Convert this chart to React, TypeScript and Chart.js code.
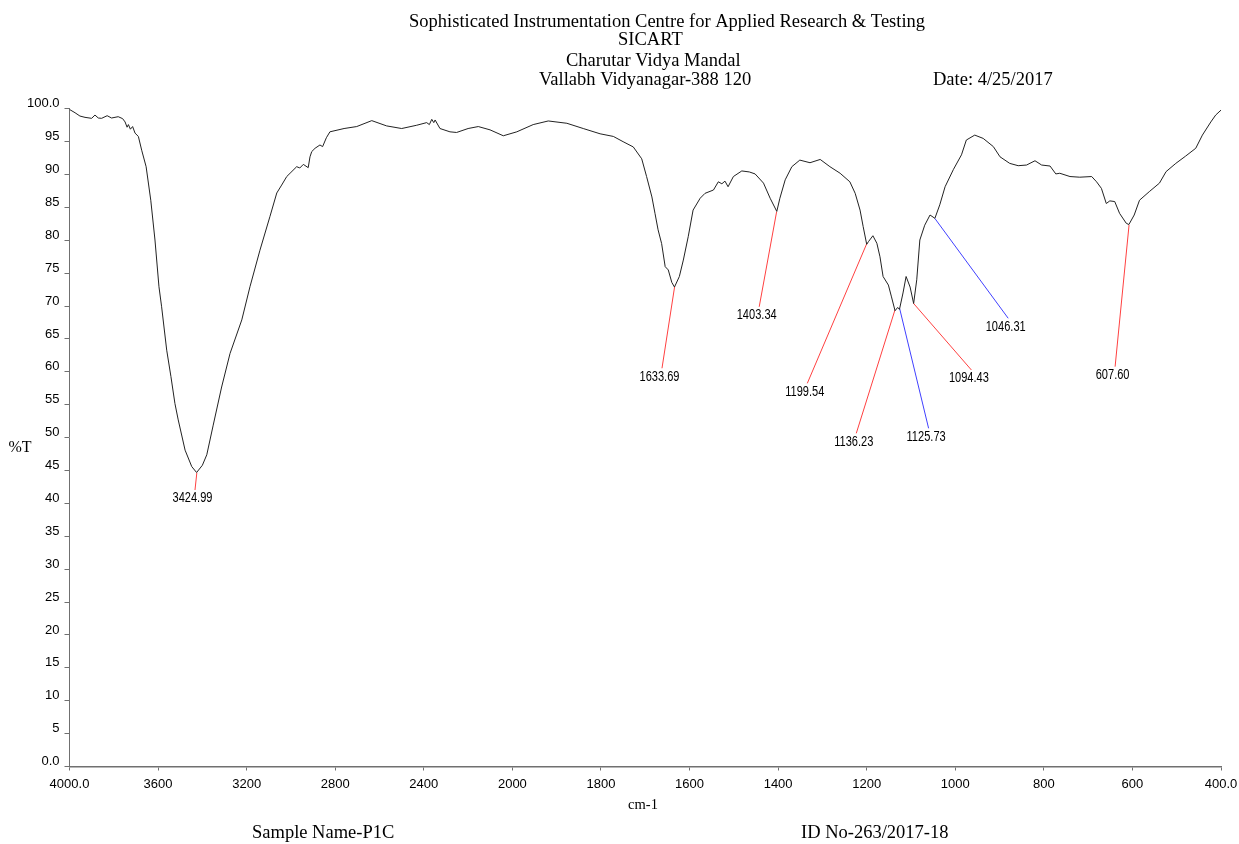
import React, { useEffect, useRef } from 'react';
import { Chart, LinearScale, registerables } from 'chart.js';

// ---------------- DATA ----------------
const HEADER_LINES = [
  'Sophisticated Instrumentation Centre for Applied Research & Testing',
  'SICART',
  'Charutar Vidya Mandal',
  'Vallabh Vidyanagar-388 120',
];
const DATE_TEXT = 'Date: 4/25/2017';
const SAMPLE_TEXT = 'Sample Name-P1C';
const ID_TEXT = 'ID No-263/2017-18';
const X_TITLE = 'cm-1';
const Y_TITLE = '%T';

const X_MIN = 400;
const X_MAX = 4000;
const X_BREAK = 2000;
const X_TICKS = [4000, 3600, 3200, 2800, 2400, 2000, 1800, 1600, 1400, 1200, 1000, 800, 600, 400];
const X_TICK_LABELS = ['4000.0', '3600', '3200', '2800', '2400', '2000', '1800', '1600', '1400', '1200', '1000', '800', '600', '400.0'];
const Y_TICK_LABELS = ['0.0', '5', '10', '15', '20', '25', '30', '35', '40', '45', '50', '55', '60', '65', '70', '75', '80', '85', '90', '95', '100.0'];

// [wavenumber cm-1, %T]
const SPECTRUM: [number, number][] = [
  [4000, 99.9], [3975, 99.4], [3953, 98.9], [3930, 98.7], [3900, 98.55], [3885, 99.05],
  [3870, 98.6], [3855, 98.55], [3830, 98.95], [3810, 98.6], [3780, 98.8], [3760, 98.5],
  [3749, 98.0], [3740, 97.2], [3734, 97.6], [3725, 96.9], [3715, 97.3], [3704, 96.3],
  [3689, 95.8], [3674, 93.7], [3654, 91.2], [3633, 86.1], [3614, 80.05], [3596, 72.95],
  [3584, 69.9], [3561, 63.3], [3542, 59.3], [3524, 55.2], [3509, 52.7], [3478, 48.1],
  [3448, 45.6], [3426, 44.7], [3400, 45.8], [3380, 47.4], [3351, 51.9], [3313, 57.7],
  [3275, 62.8], [3222, 67.9], [3185, 72.95], [3140, 78.5], [3095, 83.6], [3064, 87.2],
  [3042, 88.4], [3019, 89.7], [3004, 90.2], [2974, 91.2], [2960, 91.0], [2944, 91.55],
  [2922, 91.05], [2914, 92.7], [2906, 93.5], [2891, 94.0], [2869, 94.5], [2857, 94.25],
  [2840, 95.6], [2824, 96.5], [2760, 97.0], [2703, 97.3], [2635, 98.2], [2568, 97.4],
  [2500, 97.0], [2432, 97.5], [2387, 97.9], [2375, 97.6], [2364, 98.4], [2355, 97.9],
  [2349, 98.3], [2327, 97.0], [2282, 96.5], [2252, 96.4], [2200, 97.0], [2154, 97.3],
  [2101, 96.8], [2041, 95.9], [1990, 96.5], [1953, 97.6], [1919, 98.15], [1877, 97.8],
  [1840, 97.0], [1802, 96.2], [1772, 95.8], [1750, 95.0], [1727, 94.2], [1708, 92.4],
  [1697, 89.7], [1685, 86.6], [1678, 84.1], [1671, 81.6], [1663, 79.5], [1655, 76.0],
  [1648, 75.5], [1640, 73.6], [1634, 72.9], [1623, 74.5], [1614, 77.0], [1603, 80.55],
  [1592, 84.6], [1576, 86.4], [1565, 87.15], [1546, 87.65], [1535, 88.9], [1527, 88.6],
  [1520, 89.0], [1513, 88.15], [1501, 89.7], [1482, 90.55], [1465, 90.4], [1452, 90.1],
  [1433, 88.7], [1418, 86.4], [1403, 84.4], [1396, 86.4], [1384, 89.2], [1369, 91.2],
  [1351, 92.2], [1328, 91.8], [1305, 92.3], [1283, 91.2], [1260, 90.2], [1238, 88.9],
  [1226, 87.15], [1215, 84.6], [1208, 82.1], [1200, 79.4], [1196, 79.8], [1186, 80.7],
  [1177, 79.55], [1170, 77.5], [1163, 74.5], [1151, 73.2], [1144, 71.4], [1136, 69.3],
  [1130, 69.8], [1126, 69.5], [1118, 72.0], [1111, 74.5], [1102, 72.9], [1094, 70.4],
  [1087, 74.0], [1080, 80.05], [1069, 82.3], [1057, 83.85], [1046, 83.35], [1035, 85.4],
  [1023, 88.15], [1004, 90.8], [986, 93.0], [975, 95.25], [956, 96.0], [937, 95.5],
  [914, 94.25], [899, 92.7], [877, 91.7], [858, 91.35], [839, 91.45], [820, 92.1],
  [805, 91.45], [786, 91.3], [773, 90.1], [764, 90.2], [741, 89.7], [719, 89.6],
  [692, 89.7], [681, 88.9], [670, 87.9], [659, 85.6], [651, 86.0], [640, 85.9],
  [629, 84.1], [614, 82.6], [608, 82.4], [596, 83.85], [584, 86.1], [562, 87.4],
  [539, 88.7], [524, 90.45], [502, 91.7], [480, 92.8], [457, 94.0], [442, 96.0],
  [423, 98.0], [412, 99.05], [400, 99.8],
];

const PEAK_LABELS = ['3424.99', '1633.69', '1403.34', '1199.54', '1136.23', '1125.73', '1094.43', '1046.31', '607.60'];
const PEAK_WAVENUMBERS = [3424.99, 1633.69, 1403.34, 1199.54, 1136.23, 1125.73, 1094.43, 1046.31, 607.6];
const PEAK_TRANSMITTANCE = [44.66, 72.95, 84.36, 79.55, 69.4, 69.67, 70.43, 83.35, 82.33];

// ---------------- LAYOUT / STYLE ----------------
// end points of the peak leader lines (in axis units: cm-1, %T)
const LEADER_END_WN = [3433.3, 1662.2, 1442.7, 1334.1, 1223.5, 1060.2, 963.6, 880.5, 639.1];
const LEADER_END_T = [42.04, 60.55, 69.9, 58.26, 50.66, 51.42, 60.29, 68.15, 60.79];
const LEADER_COLORS = ['#ff4040', '#ff4040', '#ff4040', '#ff4040', '#ff4040', '#4040ff', '#ff4040', '#4040ff', '#ff4040'];

const SERIF = '"Liberation Serif", "Times New Roman", serif';
const SANS = '"Liberation Sans", Arial, sans-serif';

// Piecewise wavenumber axis: 4000-2000 compressed 2:1 relative to 2000-400
class BrokenWavenumberScale extends LinearScale {
  static id = 'brokenWavenumber';
  static defaults = {};
  toUnit(v: number) {
    return v >= X_BREAK ? (X_MAX - v) / 2 : (X_MAX - X_BREAK) / 2 + (X_BREAK - v);
  }
  getPixelForValue(value: number) {
    return this.getPixelForDecimal(this.toUnit(value) / this.toUnit(X_MIN));
  }
  getValueForPixel(pixel: number) {
    const u = this.getDecimalForPixel(pixel) * this.toUnit(X_MIN);
    const half = (X_MAX - X_BREAK) / 2;
    return u <= half ? X_MAX - u * 2 : X_BREAK - (u - half);
  }
}

Chart.register(...registerables, BrokenWavenumberScale);

const textPlugin = {
  id: 'ftirText',
  afterDraw(chart: any) {
    const ctx = chart.ctx as CanvasRenderingContext2D;
    const xs = chart.scales.x;
    const ys = chart.scales.y;
    ctx.save();
    ctx.fillStyle = '#000';
    ctx.textBaseline = 'alphabetic';
    ctx.textAlign = 'left';
    ctx.font = `18.5px ${SERIF}`;
    const headerX = [409, 618, 566, 539];
    const headerY = [26.5, 45, 66, 85];
    HEADER_LINES.forEach((t, i) => ctx.fillText(t, headerX[i], headerY[i]));
    ctx.fillText(DATE_TEXT, 933, 85);
    ctx.fillText(SAMPLE_TEXT, 252, 838);
    ctx.fillText(ID_TEXT, 801, 838);
    ctx.font = `14.5px ${SERIF}`;
    ctx.textAlign = 'center';
    ctx.fillText(X_TITLE, 643, 809);
    ctx.textAlign = 'left';
    ctx.font = `16px ${SERIF}`;
    ctx.fillText(Y_TITLE, 8.5, 451.5);

    // peak labels (condensed sans)
    ctx.font = `14px ${SANS}`;
    ctx.textAlign = 'center';
    ctx.textBaseline = 'middle';
    PEAK_LABELS.forEach((label, i) => {
      const px = xs.getPixelForValue(LEADER_END_WN[i]);
      const py = ys.getPixelForValue(LEADER_END_T[i]);
      ctx.save();
      ctx.translate(px - 2.5, py + 8.5);
      ctx.scale(0.79, 1);
      ctx.fillText(label, 0, 0);
      ctx.restore();
    });
    ctx.restore();
  },
};

export default function App() {
  const canvasRef = useRef<HTMLCanvasElement | null>(null);

  useEffect(() => {
    const canvas = canvasRef.current;
    if (!canvas) return;

    const leaderDatasets = PEAK_WAVENUMBERS.map((wn, i) => ({
      label: PEAK_LABELS[i],
      data: [
        { x: wn, y: PEAK_TRANSMITTANCE[i] },
        { x: LEADER_END_WN[i], y: LEADER_END_T[i] },
      ],
      borderColor: LEADER_COLORS[i],
      borderWidth: 1,
      pointRadius: 0,
      fill: false,
      tension: 0,
    }));

    const chart = new Chart(canvas, {
      type: 'line',
      data: {
        datasets: [
          {
            label: '%T',
            data: SPECTRUM.map(([x, y]) => ({ x, y })),
            borderColor: '#222',
            borderWidth: 1,
            pointRadius: 0,
            fill: false,
            tension: 0,
          },
          ...leaderDatasets,
        ],
      },
      options: {
        responsive: false,
        animation: false,
        events: [],
        layout: { padding: { top: 108.8, right: 18, left: 0, bottom: 0 } },
        plugins: {
          legend: { display: false },
          tooltip: { enabled: false },
          title: { display: false },
        },
        scales: {
          x: {
            type: 'brokenWavenumber' as any,
            min: X_MIN,
            max: X_MAX,
            afterBuildTicks: (scale: any) => {
              scale.ticks = X_TICKS.map((v) => ({ value: v }));
            },
            afterFit: (scale: any) => {
              scale.height = 77.5;
              scale.paddingLeft = 0;
              scale.paddingRight = 0;
            },
            ticks: {
              autoSkip: false,
              maxRotation: 0,
              minRotation: 0,
              padding: 6,
              color: '#000',
              font: { family: SANS, size: 13 },
              callback: (value: any) => {
                const idx = X_TICKS.indexOf(Number(value));
                return idx >= 0 ? X_TICK_LABELS[idx] : '';
              },
            },
            grid: {
              display: true,
              drawOnChartArea: false,
              drawTicks: true,
              tickLength: 4,
              color: '#707070',
            },
            border: { display: true, color: '#707070', width: 1.5 },
          },
          y: {
            type: 'linear',
            min: 0,
            max: 100,
            afterFit: (scale: any) => {
              scale.width = 69.5;
              scale.paddingTop = 0;
              scale.paddingBottom = 0;
            },
            ticks: {
              stepSize: 5,
              padding: 5,
              labelOffset: -5,
              color: '#000',
              font: { family: SANS, size: 13 },
              callback: (value: any) => Y_TICK_LABELS[Math.round(Number(value) / 5)] ?? '',
            },
            grid: {
              display: true,
              drawOnChartArea: false,
              drawTicks: true,
              tickLength: 5,
              color: '#707070',
            },
            border: { display: true, color: '#707070', width: 1 },
          },
        },
      },
      plugins: [textPlugin],
    });

    return () => chart.destroy();
  }, []);

  return (
    <div style={{ position: 'fixed', left: 0, top: 0, width: 1239, height: 844, background: '#fff' }}>
      <canvas ref={canvasRef} width={1239} height={844} style={{ display: 'block', width: 1239, height: 844 }} />
    </div>
  );
}
